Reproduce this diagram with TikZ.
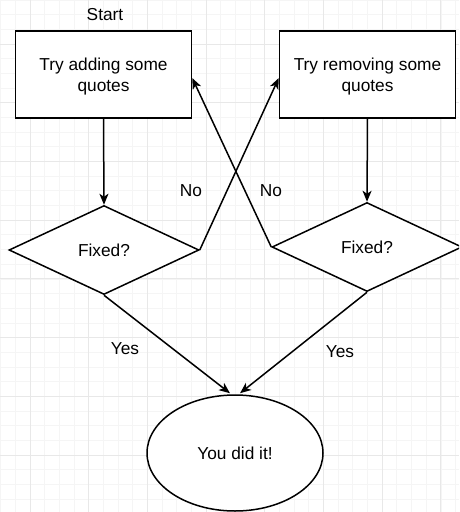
\documentclass[tikz,border=0pt]{standalone}
\usepackage{fontspec}
\setmainfont{Liberation Sans}
\usetikzlibrary{shapes.geometric,arrows.meta,calc}
\tikzset{
  procbox/.style={draw=black, line width=1.5pt, fill=white, rectangle, inner sep=0pt, minimum width=176pt, minimum height=87pt, align=center, text depth=0pt, font=\fontsize{17.3}{21}\selectfont},
  decision/.style={draw=black, line width=1.5pt, fill=white, diamond, inner sep=0pt, minimum width=190pt, minimum height=89pt, font=\fontsize{17.3}{21}\selectfont},
  endnode/.style={draw=black, line width=1.5pt, fill=white, ellipse, inner sep=0pt, minimum width=176pt, minimum height=116pt, text depth=0pt, font=\fontsize{17.3}{21}\selectfont},
  lbl/.style={font=\fontsize{17.3}{21}\selectfont, inner sep=0pt},
  flow/.style={draw=black, line width=1.5pt, -{Stealth[length=11pt,width=9pt,inset=3pt]}},
  minorgrid/.style={draw=black!4, line width=0.8pt},
  majorgrid/.style={draw=black!9, line width=1pt}
}
\begin{document}
\begin{tikzpicture}[x=1pt,y=-1pt]
\useasboundingbox (0,0) rectangle (459,512);
\clip (0,0) rectangle (459,512);
\fill[white] (0,0) rectangle (459,512);
% grid
\foreach \i in {0,...,32} {
  \draw[minorgrid] ({0.65+14.675*\i},0) -- ({0.65+14.675*\i},512);
}
\foreach \i in {0,...,35} {
  \draw[minorgrid] (0,{0.075+14.675*\i}) -- (459,{0.075+14.675*\i});
}
\foreach \i in {0,...,7} {
  \draw[majorgrid] ({30+58.7*\i},0) -- ({30+58.7*\i},512);
}
\foreach \i in {0,...,8} {
  \draw[majorgrid] (0,{44.1+58.7*\i}) -- (459,{44.1+58.7*\i});
}
% nodes
\node[procbox] (add) at (103.5,74.5) {Try adding some\\quotes};
\node[procbox] (rem) at (367.5,74.5) {Try removing some\\quotes};
\node[decision] (fix1) at (104,250) {Fixed?};
\node[decision] (fix2) at (367,247) {Fixed?};
\node[endnode] (done) at (235,453) {You did it!};
% labels
\node[lbl] (start) at (105,15) {Start};
\node[lbl] (no1) at (191,191) {No};
\node[lbl] (no2) at (271,191) {No};
\node[lbl] (yes1) at (125,349) {Yes};
\node[lbl] (yes2) at (340,352) {Yes};
% connectors
\draw[flow] (add.south) -- (fix1.north);
\draw[flow] (rem.south) -- (fix2.north);
\draw[flow] (fix1.east) -- ($(rem.north west)!0.54!(rem.south west)$);
\draw[flow] (fix2.west) -- ($(add.north east)!0.54!(add.south east)$);
\draw[flow] (fix1.south) -- ($(done.north)+(-5,-1)$);
\draw[flow] (fix2.south) -- ($(done.north)+(5,-1)$);
\end{tikzpicture}
\end{document}
